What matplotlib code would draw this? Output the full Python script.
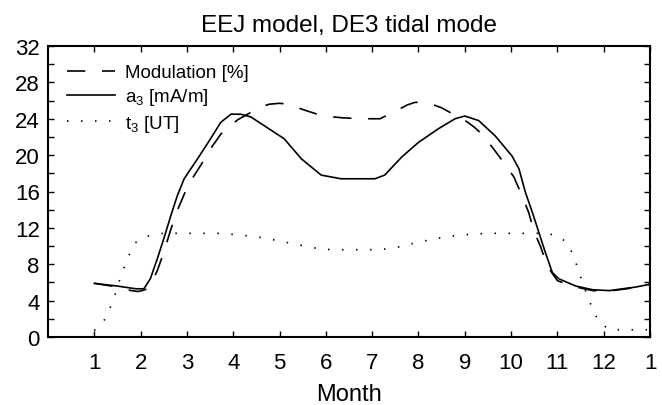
import matplotlib
matplotlib.use("Agg")
import matplotlib.pyplot as plt

# Month axis (1 = January ... 13 = next January) and curves
month_a3 = [1.0, 1.5, 1.9, 2.07, 2.21, 2.36, 2.50, 2.65, 2.79, 2.94, 3.23, 3.51,
            3.73, 3.95, 4.16, 4.38, 4.74, 5.10, 5.47, 5.9, 6.33, 7.06, 7.27, 7.64,
            8.0, 8.43, 8.79, 9.0, 9.3, 9.66, 10.02, 10.17, 10.31, 10.46, 10.6,
            10.74, 10.89, 11.03, 11.4, 11.76, 12.12, 12.41, 12.7, 13.0]
a3 = [5.9, 5.6, 5.3, 5.3, 6.4, 8.6, 10.8, 13.3, 15.5, 17.4, 19.6, 21.8,
      23.6, 24.5, 24.5, 24.2, 23.0, 21.8, 19.6, 17.8, 17.4, 17.4, 17.8, 19.8,
      21.4, 22.9, 24.0, 24.3, 23.8, 22.1, 19.9, 18.5, 15.9, 13.7, 11.5,
      9.3, 7.1, 6.4, 5.6, 5.2, 5.1, 5.3, 5.5, 5.8]

month_mod = [1.0, 1.5, 1.8, 1.95, 2.1, 2.2, 2.36, 2.5, 2.65, 2.8, 2.95, 3.1,
             3.3, 3.51, 3.73, 3.95, 4.1, 4.38, 4.6, 4.78, 5.0, 5.18, 5.4, 5.57,
             5.94, 6.37, 6.77, 7.17, 7.53, 7.75, 7.92, 8.1, 8.29, 8.5, 8.68,
             9.01, 9.2, 9.37, 9.59, 9.84, 10.06, 10.24, 10.38, 10.49, 10.64,
             10.78, 11.0, 11.2, 11.4, 11.76, 12.1, 12.5, 13.0]
modulation = [5.9, 5.5, 5.1, 5.0, 5.2, 5.6, 7.3, 9.3, 11.8, 14.0, 15.8, 17.3,
              18.9, 20.7, 22.3, 23.3, 23.9, 24.7, 25.3, 25.6, 25.7, 25.6, 25.2, 24.9,
              24.3, 24.1, 24.0, 24.0, 24.9, 25.5, 25.8, 25.8, 25.6, 25.2, 24.7,
              23.8, 23.1, 22.3, 20.9, 19.2, 17.6, 15.5, 13.7, 11.7, 9.9,
              7.8, 6.2, 5.8, 5.5, 5.1, 5.05, 5.3, 5.8]

month_t3 = [1.0, 1.22, 1.35, 1.45, 1.55, 1.65, 1.76, 1.91, 2.16, 2.48, 2.8, 3.12,
            3.44, 3.75, 4.06, 4.36, 4.66, 4.96, 5.25, 5.55, 5.85, 6.14, 6.46, 6.75,
            7.06, 7.37, 7.67, 7.96, 8.27, 8.56, 8.87, 9.18, 9.47, 9.78, 10.08,
            10.38, 10.69, 11.0, 11.22, 11.35, 11.45, 11.55, 11.65, 11.76, 11.89,
            12.12, 12.41, 12.72, 13.0]
t3 = [0.7, 1.9, 3.3, 4.7, 6.3, 7.7, 9.1, 10.5, 11.1, 11.4, 11.4, 11.4,
      11.4, 11.4, 11.25, 11.1, 10.9, 10.6, 10.3, 10.0, 9.7, 9.6, 9.6, 9.6,
      9.6, 9.7, 10.0, 10.4, 10.7, 11.0, 11.2, 11.3, 11.4, 11.4, 11.4,
      11.4, 11.4, 11.2, 10.3, 8.9, 7.4, 5.9, 4.5, 3.1, 1.7,
      0.8, 0.8, 0.8, 0.8]

month_ticks = list(range(1, 14))
month_labels = [str(m) for m in range(1, 13)] + ["1"]

plt.rcParams["font.family"] = ["Liberation Sans", "DejaVu Sans"]
plt.rcParams["mathtext.default"] = "regular"

fig = plt.figure(figsize=(6.62, 4.06), dpi=100)
ax = fig.add_axes([48 / 662, 68 / 406, 602 / 662, 291 / 406])

# lw 1.2 -> dash lengths scale with it, so patterns are given per unit width
ax.plot(month_mod, modulation, color="black", lw=1.2, linestyle=(0, (11, 10)),
        label="Modulation [%]")
ax.plot(month_a3, a3, color="black", lw=1.2, label="a$_3$ [mA/m]")
ax.plot(month_t3, t3, color="black", lw=1.2, linestyle=(0, (0.9, 7.5)),
        label="t$_3$ [UT]")

ax.set_xlim(0, 13)
ax.set_ylim(0, 32)
ax.set_xticks(month_ticks)
ax.set_xticklabels(month_labels)
ax.set_yticks(range(0, 33, 2))
ax.set_yticklabels([str(v) if v % 4 == 0 else "" for v in range(0, 33, 2)])

ax.tick_params(direction="in", top=True, right=True, length=4.5, width=1.0,
               labelsize=16)
ax.tick_params(axis="x", pad=11)
ax.tick_params(axis="y", pad=6)
for s in ax.spines.values():
    s.set_linewidth(1.5)

ax.set_xlabel("Month", fontsize=17, labelpad=7)
ax.set_title("EEJ model, DE3 tidal mode", fontsize=17.5, pad=11)

ax.legend(loc="upper left", bbox_to_anchor=(0.031, 0.938), frameon=False,
          fontsize=13.5, handlelength=2.6, handletextpad=0.5, labelspacing=0.28,
          borderpad=0, borderaxespad=0)

fig.savefig("out.png", dpi=100)
